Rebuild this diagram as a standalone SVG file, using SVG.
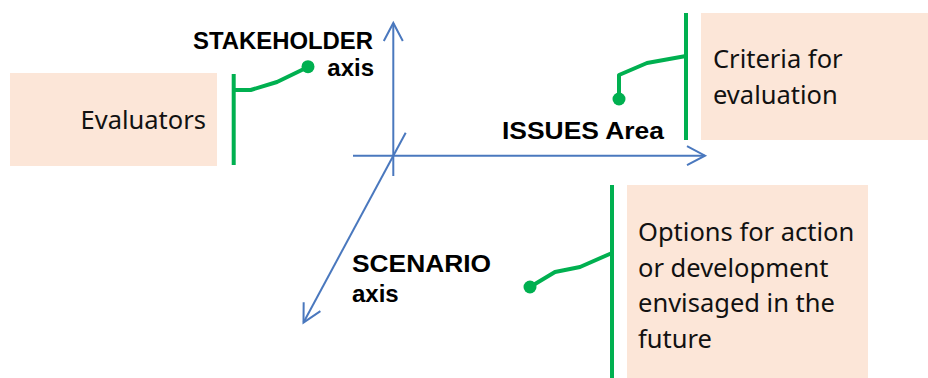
<svg xmlns="http://www.w3.org/2000/svg" width="928" height="378" viewBox="0 0 928 378">
<style>
.box{fill:#FCE6D8}
.lbl{font-family:"Noto Sans","Open Sans","Liberation Sans",sans-serif;font-size:25.5px;fill:#111}
.ax{font-family:"Liberation Sans",Arial,sans-serif;font-weight:bold;font-size:24px;fill:#000}
.g{fill:none;stroke:#00B050;stroke-width:4;stroke-linejoin:round}
.gd{fill:#00B050}
.axis{stroke:#4A78BE;stroke-width:2;fill:none}
</style>
<defs>
<marker id="arr" markerUnits="userSpaceOnUse" viewBox="-20 -12 22 24" refX="0" refY="0" markerWidth="22" markerHeight="24" orient="auto" overflow="visible">
<path d="M-18,-9.5 L0,0 L-18,9.5" fill="none" stroke="#4A78BE" stroke-width="2"/>
</marker>
</defs>
<g id="connectors">
<line class="axis" x1="393.3" y1="176" x2="393.3" y2="23" marker-end="url(#arr)"/>
<line class="axis" x1="353" y1="155.7" x2="705" y2="155.7" marker-end="url(#arr)"/>
<line class="axis" x1="405.7" y1="132.7" x2="303.5" y2="322.5" marker-end="url(#arr)"/>
</g>
<g id="stakeholder-axis">
<text class="ax" x="373" y="49" text-anchor="end" textLength="180" lengthAdjust="spacingAndGlyphs">STAKEHOLDER</text>
<text class="ax" x="374" y="76" text-anchor="end">axis</text>
</g>
<g id="issues-area">
<text class="ax" x="502" y="139" textLength="162" lengthAdjust="spacingAndGlyphs">ISSUES Area</text>
</g>
<g id="scenario-axis">
<text class="ax" x="352" y="272" textLength="139" lengthAdjust="spacingAndGlyphs">SCENARIO</text>
<text class="ax" x="352" y="302">axis</text>
</g>
<g id="evaluators">
<rect class="box" x="10" y="73" width="207" height="93"/>
<text class="lbl" x="206" y="129" text-anchor="end">Evaluators</text>
<line class="g" x1="233.7" y1="74" x2="233.7" y2="165"/>
<polyline class="g" points="233.7,90 250.7,90 277,82 308,67"/>
<circle class="gd" cx="308" cy="66.7" r="6.5"/>
</g>
<g id="criteria">
<rect class="box" x="701" y="13" width="227" height="127"/>
<text class="lbl" x="713" y="68">Criteria for</text>
<text class="lbl" x="713" y="104">evaluation</text>
<line class="g" x1="686" y1="13" x2="686" y2="140"/>
<polyline class="g" points="686,56 647,63 619,75 619,99"/>
<circle class="gd" cx="619" cy="99" r="6.5"/>
</g>
<g id="options">
<rect class="box" x="627" y="185" width="241" height="193"/>
<text class="lbl" x="638" y="241">Options for action</text>
<text class="lbl" x="638" y="277">or development</text>
<text class="lbl" x="638" y="312">envisaged in the</text>
<text class="lbl" x="638" y="348">future</text>
<line class="g" x1="612" y1="185" x2="612" y2="378"/>
<polyline class="g" points="612,253 580,267 555,272 530,287"/>
<circle class="gd" cx="530" cy="287" r="6.5"/>
</g>
</svg>
